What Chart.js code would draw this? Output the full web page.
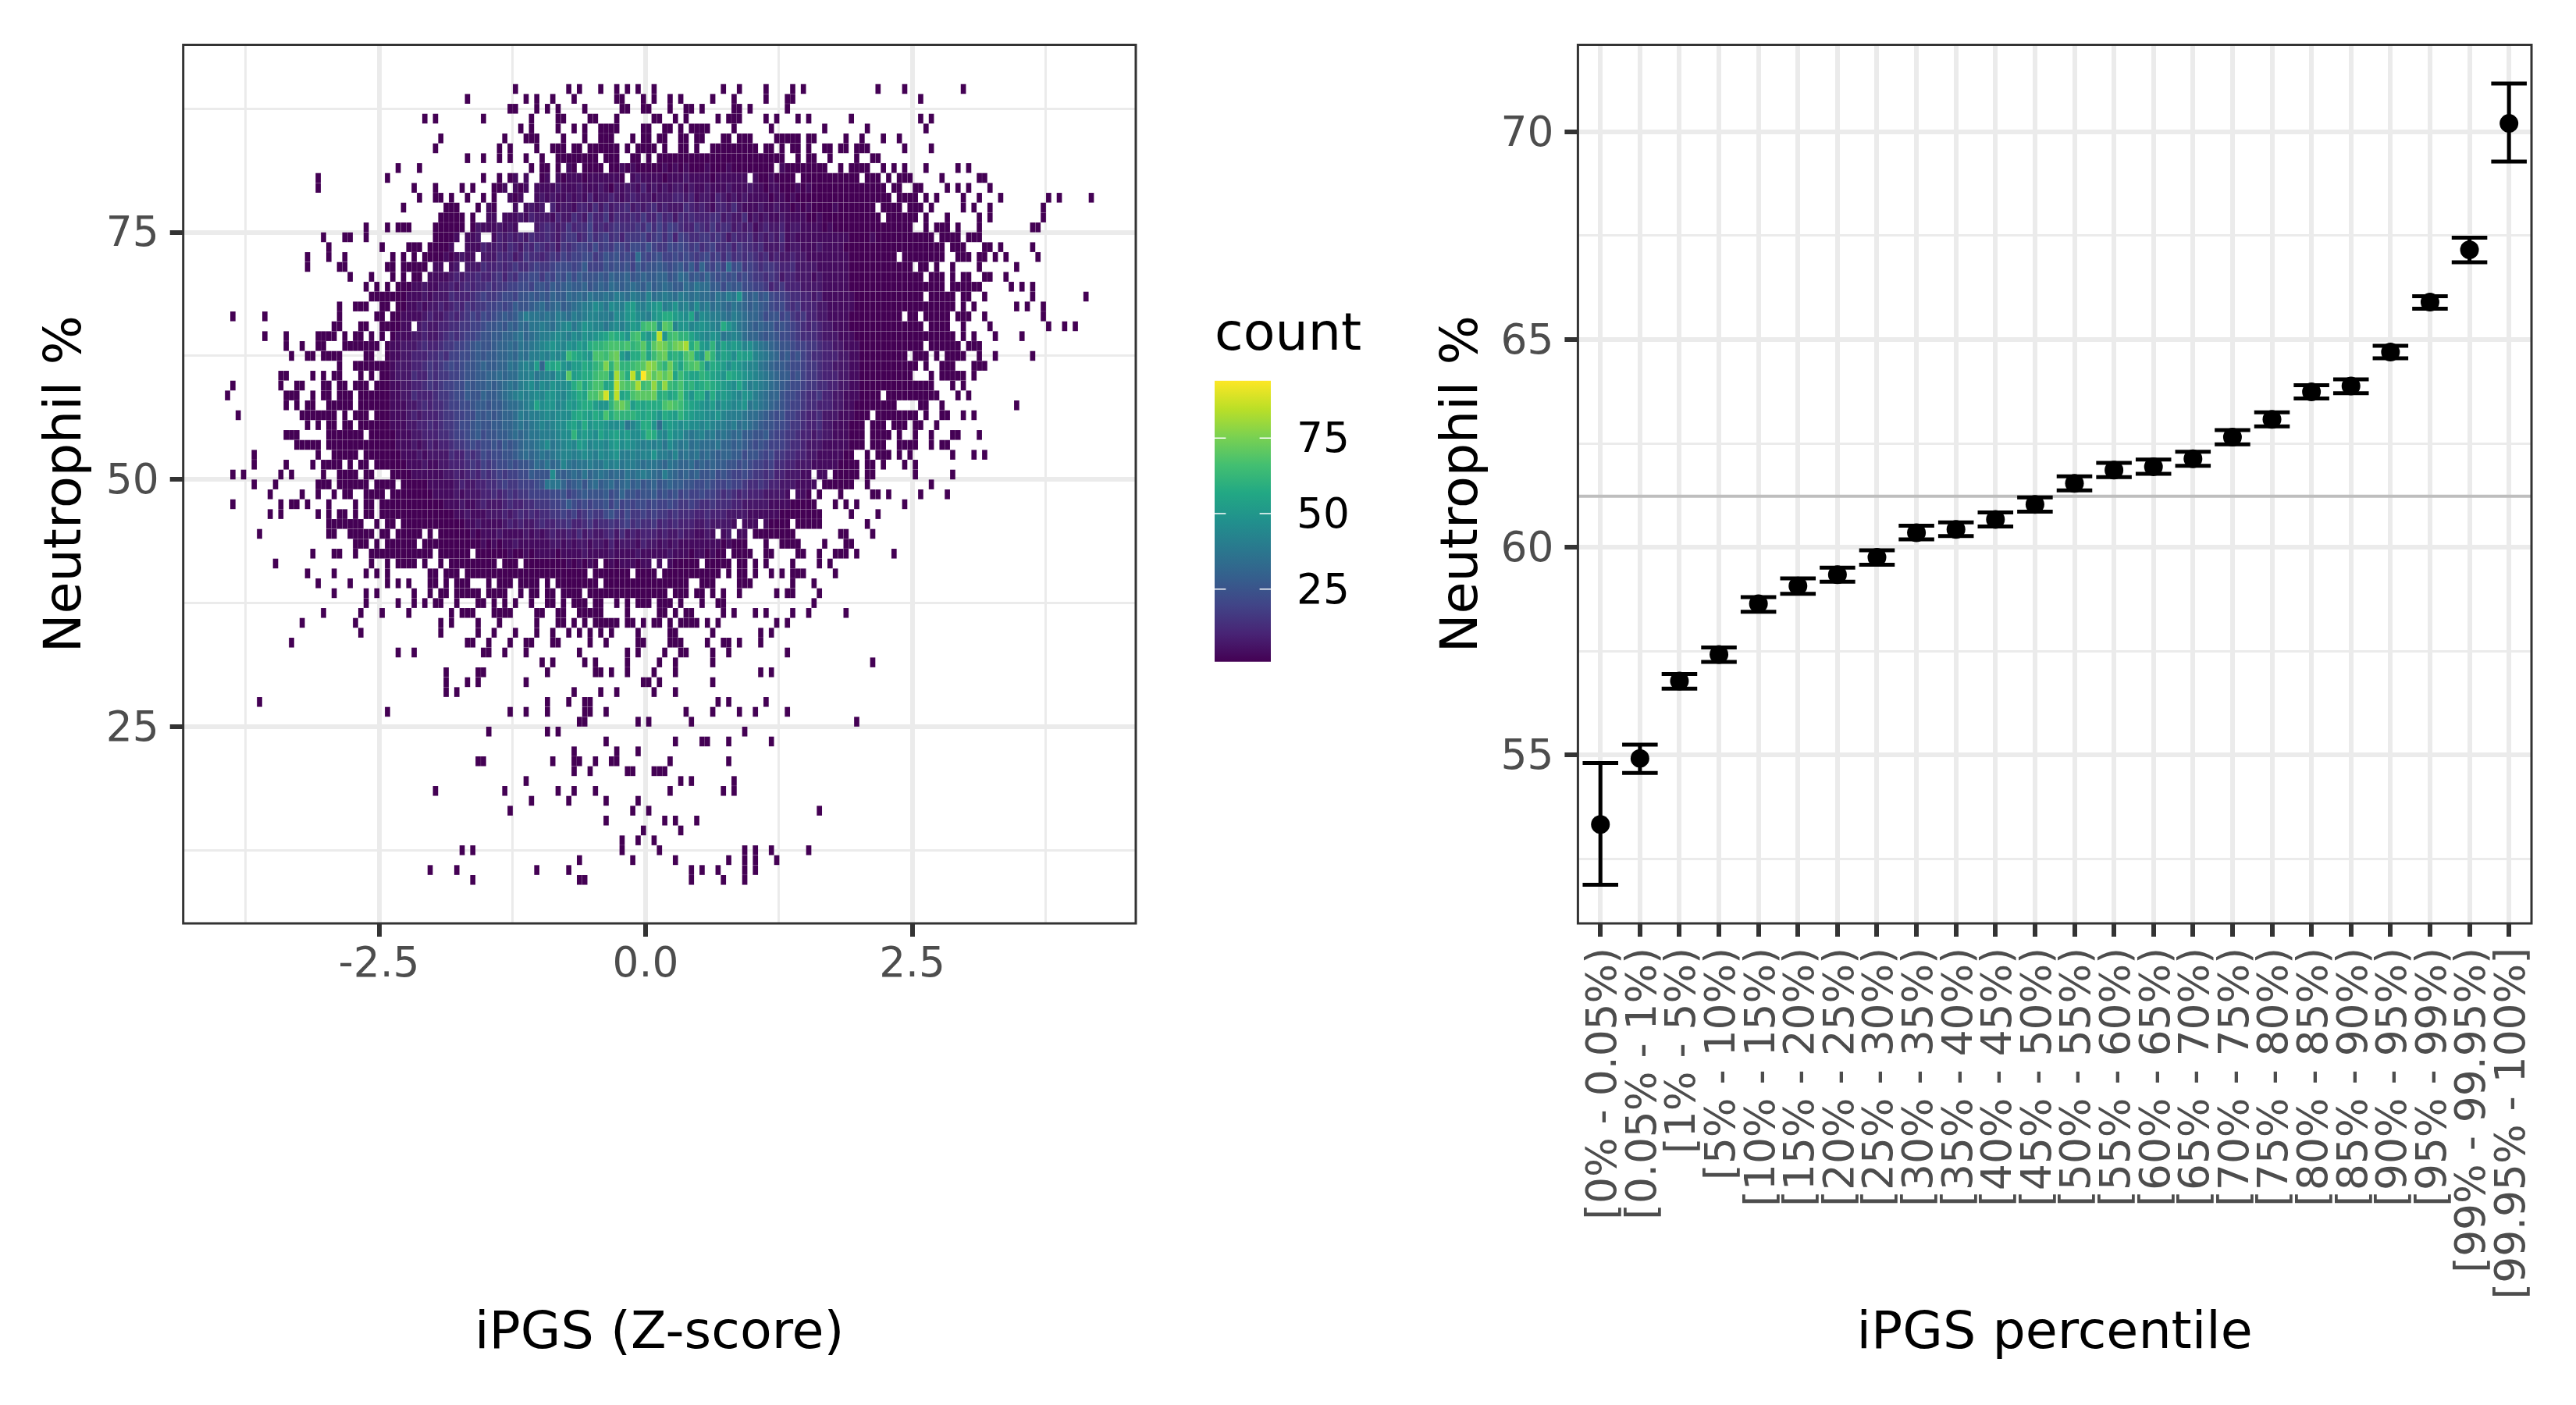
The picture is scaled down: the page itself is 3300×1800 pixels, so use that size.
<!DOCTYPE html>
<html>
<head>
<meta charset="utf-8">
<title>iPGS Neutrophil %</title>
<script src="https://cdn.jsdelivr.net/npm/chart.js@4/dist/chart.umd.min.js"></script>
<style>
  html, body { margin: 0; padding: 0; background: #fff; }
  #page { position: relative; width: 3300px; height: 1800px; overflow: hidden; }
  canvas { position: absolute; top: 0; }
</style>
</head>
<body>
<div id="page">
  <canvas id="heat-chart" width="1650" height="1800" style="left:0"></canvas>
  <canvas id="count-legend" width="300" height="500" style="left:1556px;top:380px"></canvas>
  <canvas id="percentile-chart" width="1650" height="1800" style="left:1650px"></canvas>
</div>
<script>
// left panel: bins are 0.05 wide and 1 high, rows listed from 89 down to 9
const firstBinEdge = -3.945;
const binWidth = 0.05;
const topRow = 89;
const occupiedBins = [
  "54 64 66 70 73 75 77 80 93 96 101 106 108 122 127 138",
  "45 56 58 61 65 73 74 78 80 83 85 91 95 101 105 106 130",
  "53 54 58 60 62 67 74 75 78 79 83 86 87 89 95 96 98 105",
  "37 39 48 57 62 63 68 69 73 80 81 84 86 92 94-96 101 103 107 109 117 130 132",
  "55 57 62 65 67 70-73 78 79 82 83 85 87-90 95 102 112 120 131",
  "40 52 56-58 63 67 70-72 76 78 79 81 82 85 86 88 89 93 94 96-98 103-107 109 110 116 119 123 126",
  "39 51 53 58 61-63 65 66 68-73 75 77-80 82 85 86 88 91-99 101 102 104 106 107 109 112 113 115 116 118-120 127 132",
  "45 48 51 53 56 59 62-69 71-73 76 77 79 81-104 107 109 110 113 118 121 122",
  "32 36 57 59 60 62 64 65 67-70 72-102 104-112 115 117-120 123 125 127 131 137 139",
  "17 30 48 51 53 54 56 59 60 62-74 76-97 99-106 108-118 120-122 124 126-128 134 141 142",
  "17 35 39 44 46 50-52 54-56 58-123 125 126 129 130 135 137 139 143",
  "36 39 40 42 45 48 50 53-55 58-124 126-129 131 133 138 141 145 154 156 162",
  "33 41-43 47 49 50 54 56-59 61-121 123-126 128-130 132 138 140 143 153",
  "40-44 46 49 50 52-122 124-129 131 135 141 143 153",
  "26 30 32-34 39-44 46-54 58-128 131 133-135 137 141 151 152",
  "18 22 23 26 39-43 45-47 50-132 134-137 139-141",
  "19 29 34-36 38-42 45-134 136-138 142 143 145 151",
  "15 19 22 31 33 35 37-46 48-125 127-134 137-139 141 142 144 146 152",
  "15 21 22 30 31 33-37 39 40 42 43 45-128 130 131 133 136 141 148",
  "23 27 31 33 35 36 38-130 132-134 136 138 139 142 143 146",
  "26 28 30 32-134 136-141 147 149 151",
  "27-130 132-136 138 139 142 151 161",
  "21 24-26 29 30 32-136 138 140 148 150 153",
  "1 7 21 28 29 31-126 128 129 131-135 137-139 142 153",
  "20 21 25 26 29-34 36-130 132-135 138 143 154 157 159",
  "7 11 17-20 22 24 25 27 29 31-136 138 140 144 149",
  "11 14 17 18 22-28 30-130 132-137 139-141",
  "12 15 16 18-21 26 27 30-127 129-131 133 135-138 141 144 151",
  "21 24-129 131 134-136 140-142",
  "10 11 16 18 20 21 25 27 29-128 132 134-138 140",
  "1 10 13 14 18 19 21 22 24-26 28-132 136 138",
  "0 11-13 16 18 19 21-23 25-122 124-133 137 139",
  "11 13 15 16 19-23 25-125 130 131 134 148",
  "2 14-20 22 24-26 28-120 122-129 131 134 135 138 140",
  "15 17 19 20 22 23 25-119 121-123 125-127 129 130 133",
  "11-13 19-25 27-119 121-124 126 129 132 136 137 141",
  "13-17 19-119 121-123 126-129 132 134 135",
  "5 17 20-24 26-117 120 122-124 126 128 136 140 142",
  "5 11 16 18-21 23 25 26 28-118 120 121 123 127 129",
  "1 3 10 12 18 21-24 26 27 31-109 111 112 114-118 120 121 129 136",
  "5 9 17-19 21-26 28-31 33-110 112-117 120 132",
  "8 14 17 20 22 23 26-29 31-105 107-109 111 115 121 122 124 130 135",
  "1 10 12 13 15 19 24 26 27 29-110 114 116 118 127",
  "8 10 17 19 21 22 24 26 27 29-111 117 122",
  "19-25 28 30 31 33-95 97-99 101-105 107-111 120",
  "6 19 20 23-27 29 30 32-36 38 40-91 93 94 96 97 99-106 115 116 121",
  "24-26 28 30-35 37-97 101 104-107 112 116 117",
  "16 20 21 24 27-38 40-45 47-93 95-98 101 102 107 108 111 114-116 118 125",
  "9 27 30 32-35 37 40 42-50 52-54 56-69 71-79 81 83-88 90-94 96 97 99 101 106 111 113",
  "15 20 26 28 30 38 39 41-43 45-67 69-75 77-80 82-92 94 96 97 99 102 104 106-108 114",
  "17 23 30 32 34 38 39 41 43-45 49 51-53 55-58 60 62-69 71-86 89-91 96-98 106 110",
  "20 26 28 35 38 40 41 43-47 49-52 55 57 58 60 61 63-66 68-82 84-86 88 89 91 93 96 103 105 106 111",
  "26 32 35 37 39 40 43 47 48 50 52 54 57 60 61 63 65-67 69 70 73 75 77-79 81-83 85 89 92 93 110",
  "18 25 29 34 42 44-46 50-53 58 59 62 63 66-70 75 81 82 84 86 87 93 95 99 101 106 109 116",
  "14 24 40 42 47 51 58 62 63 65 67 69-73 75 76 78 80 81 83 85-88 90 92 103 105",
  "25 40 47 50 54 58 61 64 66 68 70 72 77 83 84 91 100 102",
  "12 45 46 49 53 56 57 61 62 68 71 77 78 83-85 90 93 94 96 100",
  "32 35 48 49 52 56 66 75 77 82 85 86 91 94 105",
  "59 61 67 69 75 81 84 91 121",
  "41 47 48 60 69 70 72 75 80 84 100 102",
  "41 45 47 56 78 79 81 91",
  "41 43 65 70 73 80 84",
  "6 60 64 67 68 92 94 101",
  "30 53 56 60 67 68 71 86 91 96 99 105",
  "66 67 77 79 87 118",
  "49 60 62 97",
  "71 84 89 90 94 102",
  "65 73 77",
  "47 48 61 65 66 69 72 73 83 94",
  "65 68 75 76 80-82",
  "56 85 87 95",
  "39 52 62 65 69 83 93 95",
  "57 64 71 77",
  "53 76 79 111",
  "71 82 84 88",
  "78 85",
  "74 77 80",
  "44 46 74 81 97 99 102 109",
  "66 76 84 94 97 99 103",
  "38 43 58 64 87 89 92 97 99",
  "46 66 67 87 93 97"
];
// count per bin for rows 81 down to 41, bins 30-129, one base-36 digit n meaning 3n-2
const countFirstRow = 81;
const countFirstBin = 30;
const countDigits = [
  "1111111111 1111111111 1111111111 1111211111 1211212111 1121212111 2111211111 1111211111 1111111111 1111111111",
  "1111111111 1111111111 1111212111 2121222122 2222122322 2212223222 2122222212 1121111111 1111111111 1111111111",
  "1111111111 1111111111 1121212122 2232223222 3213233242 3232332322 3222322232 2122111212 1111111111 1111111111",
  "1111111111 1111111111 1212122223 2322323242 3343234333 2333443423 3243232322 2212212111 1111111111 1111111111",
  "1111111111 1111111112 1222232323 3423324435 3534453434 5343335434 3244353222 3223221212 1111211111 1111111111",
  "1111111111 1111111212 2322232433 3243354364 4635445464 4645354544 4553433523 2322322221 1211111111 1111111111",
  "1111111111 1111121322 2323243334 5434645574 5456555657 5757654465 4645534342 3433423322 2212111111 1111111111",
  "1111111111 1112122323 2434343544 5435664575 6756466675 6757476556 6565354453 4343523222 2222222111 1211111111",
  "1111111111 1121322243 3435435465 4536567768 6768768879 7668787675 6755646554 5333423322 2322221111 1111111111",
  "1111111111 1212322433 3545346554 5657677886 7989787c87 8977878767 8675756565 4534334332 2222222111 1111111111",
  "1111111112 2323433354 4545655676 6788878a77 7989897a89 9a989a8a7b 8797c89676 5665445333 3222222111 1111111111",
  "1111111222 2234344544 5646577886 8798a8a999 a9baab9aba abb9acb9a9 b989897876 6565344333 2322222111 1111111111",
  "1111122322 3343454556 5667788799 8a9abaab9a bacbabcbac abcbaacbdc caa8a9a887 7645644433 3322222111 1111111111",
  "1111222323 3354445676 6788799a9a 9baacbcbdc cdcedcedcf cdedcedcdc cbdcedhbab 9a87765544 3422222211 1111111111",
  "1111223233 4345465667 7878a99abc abcabcdeeg fdgfehifeg hiefhefdgd ecdcbdcbab a987865644 4332222211 1111111111",
  "1112222343 3454567687 89a9aceddc dcedcedeff eedgfhigfe hikkihgjdg feedcedcbb a899786564 4332222111 1111111111",
  "1112223433 4455667789 9a9bacbdde dcefgdfhgf fdfgegihmn nhonfhhfgh gfekhfdcba baa8987654 5433222111 1111111111",
  "1122233433 4565677899 aabbcdbcde efgfegfhgh ijlkjhmnjh kthmnlljhg fhgdefecbb a9a9887655 5433322211 1111111111",
  "1223334544 5667789a99 abbcbdcdef ghgfhgihkl lmnnmnlmok oqpnpqskni hlgjhihfge dcba998776 6544332221 1111111111",
  "1223344455 6577889a9a abbcbdceef egfgmkjihn nmopigkknj mopklknojh olhjigjiif edcb9a8976 5544433221 1111111111",
  "1233344565 6787899aba abbdcefeib jjkhgiikjl mqlpllmnor qnlpljmnol hkjigihgff dcbaa98876 6544333221 1111111111",
  "1233354465 6677899aab bcbcceefde fehgoijkkm nnisnktlwr oqoqjmkjjl kjihkjihgf edcbaa8976 6544433221 1111111111",
  "1223344565 67788a9aab abcdcefgeg fhgghkmjln njktonosmn rmrmlnkljk lkjihgjgef edcba98876 6554433221 1111111111",
  "1223354445 66788a99ba abcdefefgf hhgfhikjnn pultjknooo pkljknjhkk gkhihgfhge dcbb988765 5644332221 1111111111",
  "1222334545 5677889aa9 aabccdefjg hhfgihjkki hhlopnikjk kknonmkjih gifhgfghde dcba987765 5444332211 1111111111",
  "1222343444 5667788a9a 9abbcedeef gfgggjkjik jnkmlllkjk jhkjiljihh gghfeeedcc ba98977654 4533322211 1111111111",
  "1222334454 5667889a99 aabbcdcdef efggijhkhi ihgghdfhkk hchihghggf gfeedecdcb a998876654 4533222111 1111111111",
  "1122233444 5567789a89 9aabcbcdde eefgglhihg jhijhiggil kgfiggedef decdcbcaa9 9a87766544 3433222111 1111111111",
  "1122232343 4456678788 98a9abccde gdefgfihfg gfhighgfef efdgedecdc ccdbbaba98 9877765543 3322222111 1111111111",
  "1112223233 3354465687 8899abcbcd cdeffefgfe gfgheefeff heedfcdcdb cbabbaa899 8786655443 3222221111 1111111111",
  "1111222322 3344456576 7889899acb dbcfdcdded dfefdeedcd dcbdcbbcab abaa998987 7675544333 2222211111 1111111111",
  "1111122222 2334345465 6767788a99 9gbabcbdbc dcbcbdcded cbecbabab9 9a89877876 6564433322 2221111111 1111111111",
  "1111111122 2223433445 5676677789 dddb9ab9bc abcabcab9a b9abaa9988 9877877655 6544333222 2111111111 1111111111",
  "1111111112 2223233344 5456566777 7889789a99 9a89b99899 a898978778 7765654544 4333322221 1111111111 1111111111",
  "1111111111 1222322343 3345445566 6778a87878 8979787887 8778766765 5655544333 3322221111 1111111111 1111111111",
  "1111111111 1112232223 3343454545 5667675676 6897686676 7665655544 5444333322 2222111111 1111111111 1111111111",
  "1111111111 1111122322 2234343345 4455644564 5565675655 6454544433 4333322222 2211111111 1111111111 1111111111",
  "1111111111 1111112122 2322223232 3433435343 3453534344 4343343322 3222322211 1111111111 1111111111 1111111111",
  "1111111111 1111111121 2122322222 2332323323 3242333243 3232322222 2221211111 1111111111 1111111111 1111111111",
  "1111111111 1111111111 1112112122 2212222322 2232222322 2223222122 1211111111 1111111111 1111111111 1111111111",
  "1111111111 1111111111 1111111111 1111212121 2121222122 1212111111 1111111111 1111111111 1111111111 1111111111"
];
const viridisStops = ["#440154", "#482475", "#414487", "#355F8D", "#2A788E", "#21908D", "#22A884", "#43BF71", "#7AD151", "#BBDF27", "#FDE725"];
const countRange = [1, 94];
const countTicks = [25, 50, 75];

// right panel
const percentileBins = ["[0% - 0.05%)", "[0.05% - 1%)", "[1% - 5%)", "[5% - 10%)", "[10% - 15%)", "[15% - 20%)", "[20% - 25%)", "[25% - 30%)", "[30% - 35%)", "[35% - 40%)", "[40% - 45%)", "[45% - 50%)", "[50% - 55%)", "[55% - 60%)", "[60% - 65%)", "[65% - 70%)", "[70% - 75%)", "[75% - 80%)", "[80% - 85%)", "[85% - 90%)", "[90% - 95%)", "[95% - 99%)", "[99% - 99.95%)", "[99.95% - 100%]"];
const meanNeutrophil = [53.33, 54.92, 56.78, 57.42, 58.64, 59.07, 59.34, 59.76, 60.35, 60.43, 60.67, 61.03, 61.54, 61.86, 61.94, 62.13, 62.65, 63.08, 63.74, 63.88, 64.70, 65.90, 67.16, 70.20];
const upperNeutrophil = [54.81, 55.25, 56.95, 57.59, 58.80, 59.25, 59.51, 59.93, 60.52, 60.60, 60.84, 61.20, 61.71, 62.03, 62.11, 62.30, 62.82, 63.25, 63.90, 64.04, 64.85, 66.04, 67.45, 71.16];
const lowerNeutrophil = [51.88, 54.57, 56.60, 57.24, 58.45, 58.88, 59.17, 59.58, 60.19, 60.27, 60.50, 60.86, 61.37, 61.69, 61.77, 61.96, 62.48, 62.91, 63.58, 63.71, 64.55, 65.74, 66.86, 69.28];
const overallMean = 61.23;

Chart.defaults.font.family = "'DejaVu Sans'";

const titleFont = { family: "'DejaVu Sans'", size: 66.67, lineHeight: 1.2, weight: "normal" };
const tickFont = { family: "'DejaVu Sans'", size: 53.33, lineHeight: 1.2 };

function hexToRgb(h) {
  return [parseInt(h.slice(1, 3), 16), parseInt(h.slice(3, 5), 16), parseInt(h.slice(5, 7), 16)];
}

function countColor(v) {
  var t = (v - countRange[0]) / (countRange[1] - countRange[0]);
  var pos = Math.min(Math.max(t, 0), 1) * (viridisStops.length - 1);
  var i = Math.min(Math.floor(pos), viridisStops.length - 2);
  var a = hexToRgb(viridisStops[i]);
  var b = hexToRgb(viridisStops[i + 1]);
  var f = pos - i;
  return "rgb(" + Math.round(a[0] + (b[0] - a[0]) * f) + "," + Math.round(a[1] + (b[1] - a[1]) * f) + "," + Math.round(a[2] + (b[2] - a[2]) * f) + ")";
}

function binCount(row, bin) {
  var digits = countDigits[countFirstRow - row];
  if (!digits) return 1;
  var ch = digits.replace(/ /g, "").charAt(bin - countFirstBin);
  return ch && bin >= countFirstBin ? parseInt(ch, 36) * 3 - 2 : 1;
}

const heatCells = [];
occupiedBins.forEach(function (line, i) {
  var row = topRow - i;
  line.split(" ").forEach(function (tok) {
    var ends = tok.split("-").map(Number);
    var last = ends.length > 1 ? ends[1] : ends[0];
    for (var bin = ends[0]; bin <= last; bin++) {
      heatCells.push({ x: firstBinEdge + binWidth * (bin + 0.5), y: row + 0.5, v: binCount(row, bin) });
    }
  });
});

const panelBorder = {
  id: "panelBorder",
  afterDraw: function (chart) {
    var a = chart.chartArea, c = chart.ctx;
    c.save();
    c.strokeStyle = "#333333";
    c.lineWidth = 3;
    c.strokeRect(a.left, a.top, a.right - a.left, a.bottom - a.top);
    c.restore();
  }
};

// tiny inset leaves the pale seams between tiles
const heatTiles = {
  id: "heatTiles",
  beforeDatasetsDraw: function (chart) {
    var sx = chart.scales.x, sy = chart.scales.y, c = chart.ctx;
    var gap = 0.08;
    c.save();
    chart.data.datasets[0].data.forEach(function (d) {
      var x0 = sx.getPixelForValue(d.x - binWidth / 2), x1 = sx.getPixelForValue(d.x + binWidth / 2);
      var y0 = sy.getPixelForValue(d.y + 0.5), y1 = sy.getPixelForValue(d.y - 0.5);
      c.fillStyle = countColor(d.v);
      c.fillRect(x0 + gap, y0 + gap, x1 - x0 - 2 * gap, y1 - y0 - 2 * gap);
    });
    c.restore();
  }
};

const errorBars = {
  id: "errorBars",
  afterDatasetsDraw: function (chart) {
    var sx = chart.scales.x, sy = chart.scales.y, c = chart.ctx;
    c.save();
    c.strokeStyle = "#000";
    c.lineWidth = 5;
    percentileBins.forEach(function (b, i) {
      var xm = sx.getPixelForValue(i), xl = sx.getPixelForValue(i - 0.45), xr = sx.getPixelForValue(i + 0.45);
      var yu = sy.getPixelForValue(upperNeutrophil[i]), yl = sy.getPixelForValue(lowerNeutrophil[i]);
      c.beginPath();
      c.moveTo(xm, yu); c.lineTo(xm, yl);
      c.moveTo(xl, yu); c.lineTo(xr, yu);
      c.moveTo(xl, yl); c.lineTo(xr, yl);
      c.stroke();
    });
    c.restore();
  }
};

const legendTicks = {
  id: "legendTicks",
  afterDatasetsDraw: function (chart) {
    var a = chart.chartArea, sy = chart.scales.y, c = chart.ctx;
    c.save();
    c.strokeStyle = "#fff";
    c.lineWidth = 1.4;
    countTicks.forEach(function (v) {
      var y = sy.getPixelForValue(v);
      c.beginPath();
      c.moveTo(a.left, y); c.lineTo(a.left + 14.4, y);
      c.moveTo(a.right - 14.4, y); c.lineTo(a.right, y);
      c.stroke();
    });
    c.restore();
  }
};

// canvas middle baseline sits a little high compared to the reference labels
function nudgeLabels(offsets) {
  return {
    id: "nudgeLabels",
    beforeDraw: function (chart) {
      Object.keys(offsets).forEach(function (id) {
        chart.scales[id].getLabelItems().forEach(function (item) {
          item.options.translation[0] += offsets[id][0];
          item.options.translation[1] += offsets[id][1];
        });
      });
    }
  };
}

// grid line width follows whether the tick carries a label
function gridFor(isMajor) {
  return {
    color: "#EBEBEB",
    lineWidth: function (ctx) { return ctx.tick && isMajor(ctx.tick.value) ? 6 : 3; },
    tickLength: 17,
    tickWidth: 6,
    tickColor: function (ctx) { return ctx.tick && isMajor(ctx.tick.value) ? "#333333" : "rgba(0,0,0,0)"; }
  };
}

function fixedAxis(size) {
  return function (scale) {
    if (scale.isHorizontal()) {
      scale.height = size;
      scale.paddingLeft = 0;
      scale.paddingRight = 0;
    } else {
      scale.width = size;
      scale.paddingTop = 0;
      scale.paddingBottom = 0;
    }
  };
}

function multipleOf(step) {
  return function (v) {
    var r = Math.abs(v / step - Math.round(v / step));
    return r < 1e-6;
  };
}

const isHeatX = multipleOf(2.5);
const isHeatY = multipleOf(25);
const isPctY = multipleOf(5);

new Chart(document.getElementById("heat-chart"), {
  type: "scatter",
  data: { datasets: [{ label: "count", data: heatCells, pointRadius: 0, pointHoverRadius: 0 }] },
  options: {
    responsive: false,
    animation: false,
    devicePixelRatio: 1,
    layout: { padding: { top: 57.5, right: 195, left: 0, bottom: 0 } },
    plugins: { legend: { display: false }, tooltip: { enabled: false } },
    scales: {
      x: {
        type: "linear", min: -4.336, max: 4.597,
        afterFit: fixedAxis(617),
        border: { display: false },
        grid: gridFor(isHeatX),
        ticks: {
          stepSize: 1.25, includeBounds: false, autoSkip: false, maxRotation: 0, minRotation: 0,
          padding: 5, color: "#4D4D4D", font: tickFont,
          callback: function (v) { return isHeatX(v) ? v.toFixed(1) : ""; }
        },
        title: { display: true, text: "iPGS (Z-score)", color: "#000", font: titleFont, padding: { top: 0, bottom: 50 } }
      },
      y: {
        type: "linear", min: 5.1, max: 93.96,
        afterFit: fixedAxis(234.7),
        border: { display: false },
        grid: gridFor(isHeatY),
        ticks: {
          stepSize: 12.5, includeBounds: false, autoSkip: false,
          padding: 14, color: "#4D4D4D", font: tickFont,
          callback: function (v) { return isHeatY(v) ? String(v) : ""; }
        },
        title: { display: true, text: "Neutrophil %", color: "#000", font: titleFont, padding: { top: 46, bottom: 0 } }
      }
    }
  },
  plugins: [heatTiles, panelBorder, nudgeLabels({ y: [0, 4] })]
});

new Chart(document.getElementById("count-legend"), {
  type: "bar",
  data: {
    labels: ["count"],
    datasets: [{
      data: [countRange],
      barPercentage: 1,
      categoryPercentage: 1,
      borderWidth: 0,
      backgroundColor: function (ctx) {
        var area = ctx.chart.chartArea;
        if (!area) return viridisStops[0];
        var g = ctx.chart.ctx.createLinearGradient(0, area.bottom, 0, area.top);
        viridisStops.forEach(function (col, i) { g.addColorStop(i / (viridisStops.length - 1), col); });
        return g;
      }
    }]
  },
  options: {
    responsive: false,
    animation: false,
    devicePixelRatio: 1,
    layout: { padding: { top: 0, right: 0, left: 0, bottom: 32.3 } },
    plugins: {
      legend: { display: false },
      tooltip: { enabled: false },
      title: { display: true, text: "count", align: "start", color: "#000", font: titleFont, padding: { top: 11, bottom: 16.7 } }
    },
    scales: {
      x: { display: false },
      y: {
        position: "right", min: countRange[0], max: countRange[1],
        afterFit: fixedAxis(228),
        border: { display: false },
        grid: { display: false, drawTicks: false, tickLength: 0 },
        ticks: { stepSize: 25, includeBounds: false, padding: 33, color: "#000", font: tickFont }
      }
    }
  },
  plugins: [legendTicks, nudgeLabels({ y: [0, 4] })]
});

new Chart(document.getElementById("percentile-chart"), {
  type: "scatter",
  data: {
    datasets: [
      {
        type: "line",
        label: "overall mean",
        data: [{ x: -0.57, y: overallMean }, { x: 23.57, y: overallMean }],
        borderColor: "#BEBEBE",
        borderWidth: 4,
        pointRadius: 0,
        order: 2
      },
      {
        label: "Neutrophil %",
        data: meanNeutrophil.map(function (v, i) { return { x: i, y: v }; }),
        backgroundColor: "#000",
        borderColor: "#000",
        pointRadius: 12,
        pointBorderWidth: 0,
        order: 1
      }
    ]
  },
  options: {
    responsive: false,
    animation: false,
    devicePixelRatio: 1,
    layout: { padding: { top: 57.5, right: 57, left: 0, bottom: 0 } },
    plugins: { legend: { display: false }, tooltip: { enabled: false } },
    scales: {
      x: {
        type: "linear", min: -0.57, max: 23.57,
        afterFit: fixedAxis(617),
        border: { display: false },
        grid: gridFor(function () { return true; }),
        ticks: {
          stepSize: 1, includeBounds: false, autoSkip: false, minRotation: 90, maxRotation: 90,
          padding: 14, color: "#4D4D4D", font: tickFont,
          callback: function (v) { return percentileBins[v]; }
        },
        title: { display: true, text: "iPGS percentile", color: "#000", font: titleFont, padding: { top: 0, bottom: 50 } }
      },
      y: {
        type: "linear", min: 50.95, max: 72.09,
        afterFit: fixedAxis(371.4),
        border: { display: false },
        grid: gridFor(isPctY),
        ticks: {
          stepSize: 2.5, includeBounds: false, autoSkip: false,
          padding: 14, color: "#4D4D4D", font: tickFont,
          callback: function (v) { return isPctY(v) ? String(v) : ""; }
        },
        title: { display: true, text: "Neutrophil %", color: "#000", font: titleFont, padding: { top: 185, bottom: 0 } }
      }
    }
  },
  plugins: [errorBars, panelBorder, nudgeLabels({ x: [6, 0], y: [0, 4] })]
});
</script>
</body>
</html>
